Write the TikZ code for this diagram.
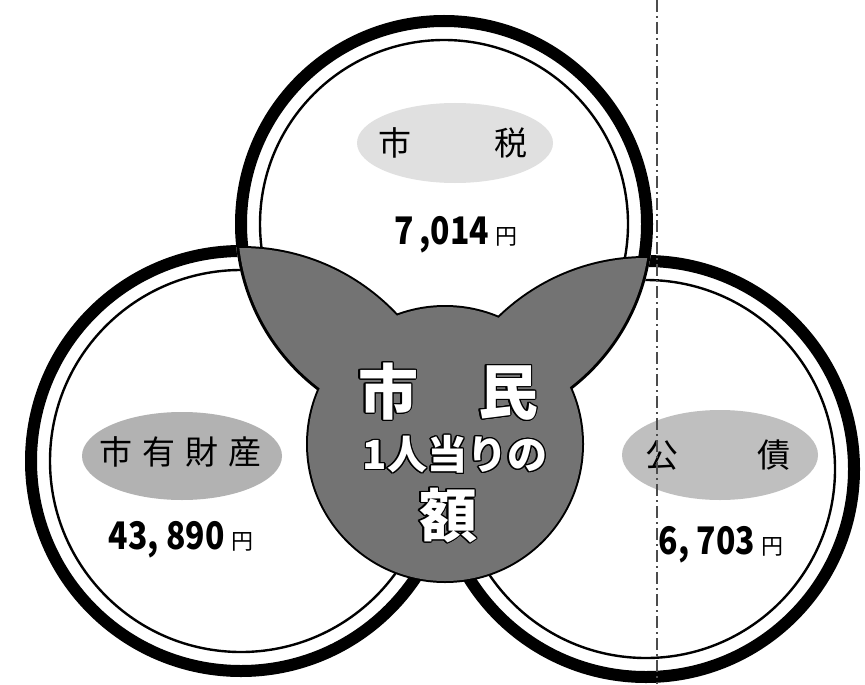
\documentclass[tikz,border=0pt]{standalone}
\usepackage{fontspec}
\usepackage[copies]{contour}
\newfontfamily\jp{Noto Sans CJK JP}
\contourlength{0.6pt}
\newcommand{\yen}{{\fontsize{11pt}{11pt}\selectfont\mdseries 円}}
\newcommand{\kin}[1]{\scalebox{0.84}[1]{#1}\,\yen}

\begin{document}
\begin{tikzpicture}[x=0.5pt,y=-0.5pt,
	band/.style={line width=6pt},
	thinline/.style={line width=1.2pt},
	edge/.style={line width=2pt},
	face/.style={fill=black!55},
	blob/.style={fill=black!#1},
	lbl/.style={font=\jp\fontsize{16.5pt}{17pt}\selectfont},
	num/.style={font=\jp\bfseries\fontsize{19pt}{19pt}\selectfont},
	big/.style={text=white, font=\jp\bfseries\fontsize{#1}{#1}\selectfont}]
	\useasboundingbox (0,0) rectangle (865,684);
	\fill[white] (0,0) rectangle (865,684);
	\coordinate (T) at (444,224);
	\coordinate (L) at (241,461);
	\coordinate (R) at (646,469);
	\coordinate (M) at (445,444);
	% three rings
	\foreach \c/\r in {L/216,R/214,T/209}{
		\fill[white] (\c) circle [radius=\r];
		\draw[band] (\c) circle [radius=\r-6];
		\draw[thinline] (\c) circle [radius=\r-25];
	}
	% outline of the shaded part
	\begin{scope}
		\clip (T) circle [radius=206];
		\draw[edge] (L) circle [radius=213];
		\draw[edge] (R) circle [radius=211];
	\end{scope}
	\begin{scope}
		\clip (L) circle [radius=213];
		\draw[edge] (T) circle [radius=206];
	\end{scope}
	\begin{scope}
		\clip (R) circle [radius=211];
		\draw[edge] (T) circle [radius=206];
	\end{scope}
	\draw[edge] (M) circle [radius=137];
	% shaded part
	\begin{scope}
		\clip (T) circle [radius=206];
		\fill[face] (L) circle [radius=213] (R) circle [radius=211];
	\end{scope}
	\fill[face] (M) circle [radius=137];
	% label blobs
	\fill[blob=12] (455,143) ellipse [x radius=98, y radius=40];
	\fill[blob=30] (182,456) ellipse [x radius=100, y radius=44];
	\fill[blob=25] (720,455) ellipse [x radius=98, y radius=45];
	% texts
	\node[lbl] (shizei) at (453,143) {市\hspace{2.5em}税};
	\node[num] (shizeigaku) at (456,235) {\kin{7\,,014}};
	\node[lbl] (zaisan) at (180,452) {市\hspace{5pt}有\hspace{5pt}財\hspace{5pt}産};
	\node[num] (zaisangaku) at (181,540) {\kin{43, 890}};
	\node[lbl] (kosai) at (718,455) {公\hspace{2.4em}債};
	\node[num] (kosaigaku) at (721,545) {\kin{6, 703}};
	\node[big=30pt] (shimin) at (448,392) {\contour{black}{市\hspace{30pt}民}};
	\node[big=20pt] (hitori) at (455,455) {\contour{black}{1人当りの}};
	\node[big=29pt] (gaku) at (448,516) {\contour{black}{額}};
	% fold line
	\draw[black!70, dash pattern=on 6pt off 2pt on 1pt off 2pt, line width=0.6pt] (657,0) -- (657,684);
\end{tikzpicture}
\end{document}
